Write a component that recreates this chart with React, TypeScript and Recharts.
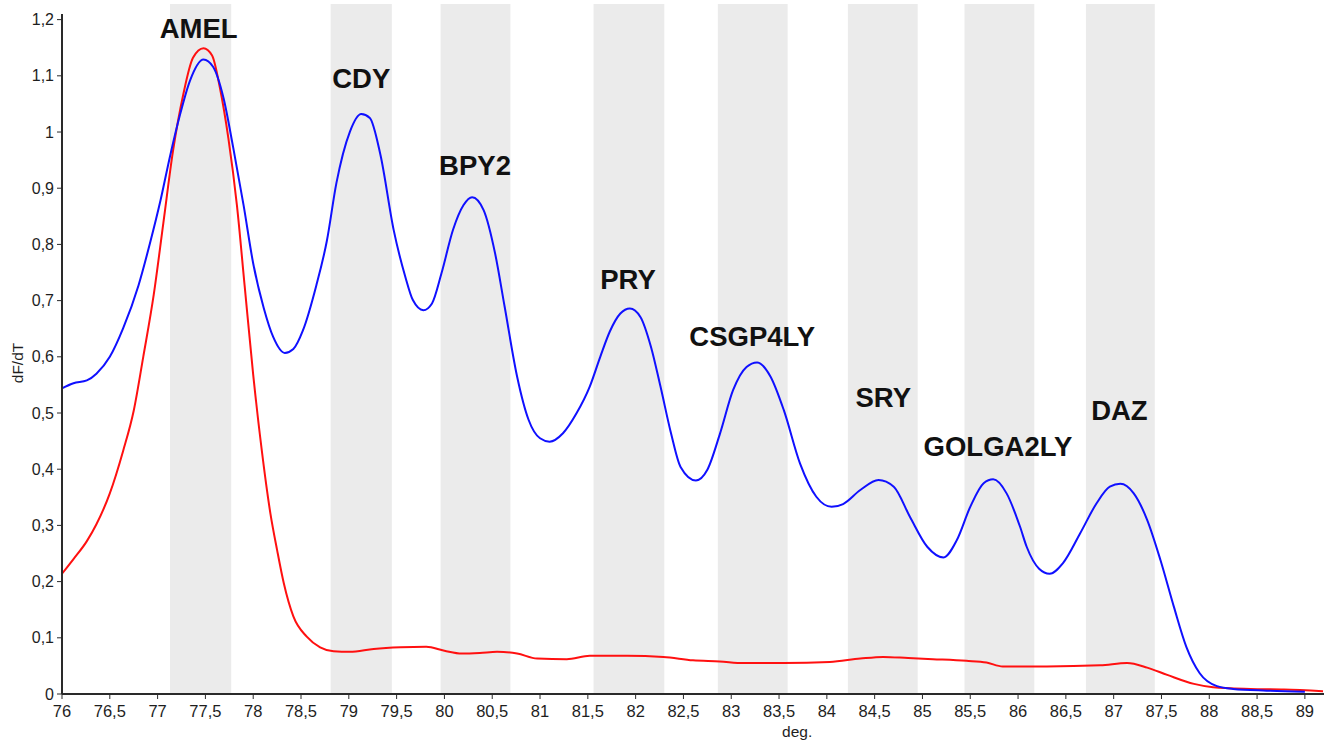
import React from 'react';
import { LineChart, Line, XAxis, YAxis, ReferenceArea, ReferenceDot, Label } from 'recharts';

const blueTemp = [76.0, 76.12, 76.26, 76.36, 76.5, 76.64, 76.8, 76.92, 77.03, 77.13, 77.23, 77.34, 77.48, 77.58, 77.69, 77.79, 77.9, 78.0, 78.11, 78.21, 78.33, 78.42, 78.52, 78.66, 78.77, 78.87, 79.01, 79.13, 79.22, 79.33, 79.47, 79.59, 79.67, 79.78, 79.87, 79.97, 80.09, 80.2, 80.29, 80.41, 80.53, 80.63, 80.76, 80.88, 81.0, 81.1, 81.24, 81.38, 81.52, 81.63, 81.73, 81.84, 81.94, 82.05, 82.16, 82.26, 82.37, 82.47, 82.63, 82.75, 82.88, 83.02, 83.16, 83.27, 83.41, 83.55, 83.72, 83.89, 84.05, 84.17, 84.35, 84.54, 84.7, 84.87, 85.05, 85.22, 85.36, 85.5, 85.64, 85.74, 85.88, 86.02, 86.09, 86.22, 86.33, 86.47, 86.65, 86.82, 86.96, 87.07, 87.21, 87.35, 87.49, 87.63, 87.76, 87.9, 88.08, 88.25, 88.6, 89.0];
const blueValue = [0.544, 0.553, 0.558, 0.57, 0.6, 0.651, 0.727, 0.802, 0.878, 0.957, 1.028, 1.092, 1.129, 1.116, 1.06, 0.973, 0.869, 0.766, 0.687, 0.635, 0.607, 0.614, 0.647, 0.727, 0.806, 0.909, 1.0, 1.032, 1.025, 0.96, 0.825, 0.743, 0.701, 0.683, 0.695, 0.749, 0.826, 0.87, 0.884, 0.861, 0.784, 0.689, 0.565, 0.488, 0.455, 0.449, 0.464, 0.499, 0.547, 0.6, 0.645, 0.677, 0.686, 0.671, 0.618, 0.547, 0.464, 0.404, 0.38, 0.399, 0.462, 0.541, 0.582, 0.59, 0.565, 0.505, 0.41, 0.351, 0.333, 0.338, 0.363, 0.381, 0.369, 0.315, 0.262, 0.243, 0.274, 0.333, 0.375, 0.382, 0.357, 0.298, 0.262, 0.223, 0.214, 0.233, 0.286, 0.339, 0.369, 0.374, 0.357, 0.31, 0.238, 0.155, 0.084, 0.037, 0.014, 0.009, 0.006, 0.004];

const redTemp = [76.0, 76.12, 76.26, 76.36, 76.5, 76.64, 76.75, 76.85, 76.96, 77.06, 77.16, 77.27, 77.37, 77.48, 77.57, 77.65, 77.74, 77.83, 77.91, 78.0, 78.09, 78.18, 78.25, 78.32, 78.42, 78.56, 78.7, 78.84, 79.01, 79.26, 79.54, 79.81, 80.0, 80.18, 80.37, 80.55, 80.76, 80.97, 81.28, 81.52, 81.91, 82.29, 82.6, 82.88, 83.13, 83.55, 84.03, 84.35, 84.59, 84.85, 85.11, 85.46, 85.67, 85.84, 86.3, 86.86, 87.14, 87.35, 87.56, 87.84, 88.04, 88.43, 88.78, 89.19];
const redValue = [0.214, 0.24, 0.272, 0.302, 0.357, 0.433, 0.504, 0.6, 0.711, 0.838, 0.965, 1.068, 1.132, 1.149, 1.136, 1.08, 0.989, 0.869, 0.727, 0.568, 0.433, 0.321, 0.256, 0.197, 0.138, 0.102, 0.083, 0.076, 0.075, 0.08, 0.083, 0.084, 0.077, 0.072, 0.073, 0.075, 0.072, 0.063, 0.062, 0.068, 0.068, 0.066, 0.06, 0.058, 0.055, 0.055, 0.057, 0.063, 0.066, 0.064, 0.062, 0.059, 0.056, 0.049, 0.049, 0.051, 0.055, 0.047, 0.034, 0.018, 0.012, 0.009, 0.008, 0.005];

const markers = ['AMEL', 'CDY', 'BPY2', 'PRY', 'CSGP4LY', 'SRY', 'GOLGA2LY', 'DAZ'];
const bandStart = [77.13, 78.81, 79.96, 81.56, 82.86, 84.22, 85.44, 86.71];
const bandEnd = [77.77, 79.45, 80.69, 82.3, 83.59, 84.95, 86.17, 87.43];
const labelTemp = [77.43, 79.13, 80.32, 81.92, 83.22, 84.59, 85.79, 87.06];
const labelValue = [1.185, 1.096, 0.94, 0.738, 0.637, 0.528, 0.44, 0.505];

const xTicks = [76, 76.5, 77, 77.5, 78, 78.5, 79, 79.5, 80, 80.5, 81, 81.5, 82, 82.5, 83, 83.5, 84, 84.5, 85, 85.5, 86, 86.5, 87, 87.5, 88, 88.5, 89];
const yTicks = [0, 0.1, 0.2, 0.3, 0.4, 0.5, 0.6, 0.7, 0.8, 0.9, 1, 1.1, 1.2];

const blueData = blueTemp.map((x, i) => ({ x, y: blueValue[i] }));
const redData = redTemp.map((x, i) => ({ x, y: redValue[i] }));

const fmt = (v: number) => String(v).replace('.', ',');
const FONT = '"Liberation Sans", Arial, sans-serif';

export default function App() {
  return (
    <div style={{ position: 'absolute', left: 0, top: 0, background: '#fff' }}>
      <LineChart width={1328} height={741} margin={{ top: 14, right: 4, bottom: 0, left: 0 }} style={{ fontFamily: FONT }}>
        {bandStart.map((s, i) => (
          <ReferenceArea key={'b' + i} x1={s} x2={bandEnd[i]} y1={0} y2={1.228} ifOverflow="visible" fill="#ebebeb" fillOpacity={1} stroke="none" />
        ))}
        <XAxis
          type="number"
          dataKey="x"
          domain={[76, 89.2]}
          ticks={xTicks}
          tickFormatter={fmt}
          allowDataOverflow
          height={47}
          axisLine={{ stroke: '#2a2a2a', strokeWidth: 2 }}
          tickLine={{ stroke: '#2a2a2a' }}
          tickSize={5}
          tickMargin={6}
          tick={{ fill: '#1e1e1e', fontSize: 16.5, fontFamily: FONT }}
          interval={0}
        >
          <Label
            content={(p: any) => {
              const vb = p.viewBox || {};
              return (
                <text x={vb.x + vb.width * 0.5825} y={vb.y + 43} textAnchor="middle" fill="#1e1e1e" fontSize={15.5} fontFamily={FONT}>
                  deg.
                </text>
              );
            }}
          />
        </XAxis>
        <YAxis
          type="number"
          domain={[0, 1.21]}
          ticks={yTicks}
          tickFormatter={fmt}
          allowDataOverflow
          width={62}
          axisLine={{ stroke: '#2a2a2a', strokeWidth: 2 }}
          tickLine={{ stroke: '#2a2a2a' }}
          tickSize={5}
          tickMargin={3}
          tick={{ fill: '#1e1e1e', fontSize: 16, fontFamily: FONT }}
          interval={0}
        >
          <Label
            content={(p: any) => {
              const vb = p.viewBox || {};
              const cx = vb.x + 17;
              const cy = vb.y + vb.height / 2 + 9;
              return (
                <text transform={`translate(${cx},${cy}) rotate(-90)`} textAnchor="middle" dominantBaseline="central" fill="#1e1e1e" fontSize={15.5} fontFamily={FONT}>
                  dF/dT
                </text>
              );
            }}
          />
        </YAxis>
        <Line data={redData} dataKey="y" type="monotone" stroke="#ff1010" strokeWidth={2} dot={false} isAnimationActive={false} />
        <Line data={blueData} dataKey="y" type="monotone" stroke="#1010ff" strokeWidth={2} dot={false} isAnimationActive={false} />
        {markers.map((m, i) => (
          <ReferenceDot
            key={'l' + i}
            x={labelTemp[i]}
            y={labelValue[i]}
            r={0}
            fill="none"
            stroke="none"
            ifOverflow="visible"
            label={{ value: m, position: 'center', fill: '#111', fontSize: 27.5, fontWeight: 'bold', fontFamily: FONT }}
          />
        ))}
      </LineChart>
    </div>
  );
}
